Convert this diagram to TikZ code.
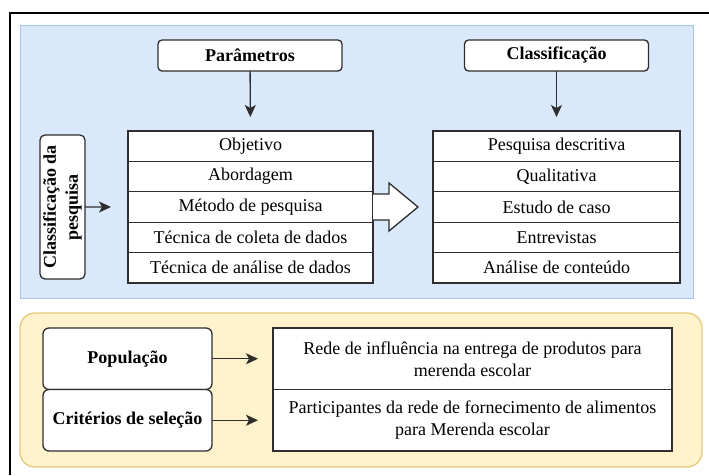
\documentclass[tikz,border=0pt]{standalone}
\usepackage{fontspec}
\setmainfont{Liberation Serif}
\usetikzlibrary{positioning, calc, arrows.meta}
\definecolor{panelblue}{HTML}{DAE8FC}
\definecolor{panelblueline}{HTML}{A9C4EB}
\definecolor{panelyellow}{HTML}{FFF2CC}
\definecolor{panelyellowline}{HTML}{E3CB7E}
\definecolor{boxline}{HTML}{2E2E2E}
\newcommand{\diagfont}{\fontsize{18}{22}\selectfont}
\tikzset{
  link/.style={-{Stealth[length=12, width=11, inset=3]}, draw=boxline, line width=1.3},
  headbox/.style={draw=boxline, line width=1.3, fill=white, rounded corners=4, minimum width=184, minimum height=31, font=\diagfont\bfseries},
  cell/.style={draw=boxline, line width=1.3, fill=white, minimum width=245, minimum height=30.4},
  sidebox/.style={draw=boxline, line width=1.3, fill=white, rounded corners=6, minimum width=169, minimum height=61.5, font=\diagfont\bfseries},
  widecell/.style={draw=boxline, line width=1.3, fill=white, minimum width=399, minimum height=61.5, align=center},
  hollow/.style={draw=boxline, line width=1.3, fill=white, line join=miter},
  every node/.style={inner sep=0, outer sep=0, font=\diagfont}, node distance=0
}
\begin{document}
\begin{tikzpicture}[x=1pt, y=-1pt]
    \useasboundingbox (0,0) rectangle (709,475);
    \draw[line width=1.3] (10,475) -- (10,13) -- (709,13);
    \draw[panelblueline, fill=panelblue, line width=1] (20,25) rectangle (693,298);
    \draw[panelyellowline, fill=panelyellow, line width=1.3, rounded corners=15] (20,313) rectangle (702,467);
    \node[headbox] (param) at (250,55.5) {Parâmetros};
    \node[headbox] (classif) at (556.5,55.5) {Classificação};
    \node[cell] (objetivo) at (250.5,146.2) {Objetivo};
    \node[cell, below=of objetivo] (abordagem) {Abordagem};
    \node[cell, below=of abordagem] (metodo) {Método de pesquisa};
    \node[cell, below=of metodo] (coleta) {Técnica de coleta de dados};
    \node[cell, below=of coleta] (analise) {Técnica de análise de dados};
    \node[cell, minimum width=247] (descritiva) at (556.5,146.2) {Pesquisa descritiva};
    \node[cell, minimum width=247, below=of descritiva] (qualitativa) {Qualitativa};
    \node[cell, minimum width=247, below=of qualitativa] (caso) {Estudo de caso};
    \node[cell, minimum width=247, below=of caso] (entrevistas) {Entrevistas};
    \node[cell, minimum width=247, below=of entrevistas] (conteudo) {Análise de conteúdo};
    \draw[link, shorten >=14] (param) -- (objetivo);
    \draw[link, shorten >=14] (classif) -- (descritiva);
    \node[draw=boxline, line width=1.3, fill=white, rounded corners=5, rotate=90, minimum width=144, minimum height=45, align=center, font=\diagfont\bfseries] (tipo) at (62.5,207) {Classificação da\\pesquisa};
    \draw[link, shorten >=17] (tipo) -- (metodo);
    \draw[hollow] (metodo.east) ++(0,-13) -- ++(16,0) -- ++(0,-11) -- ++(29,24) -- ++(-29,24) -- ++(0,-11) -- ++(-16,0);
    \node[sidebox] (populacao) at (127.5,358.75) {População};
    \node[sidebox, below=of populacao] (criterios) {Critérios de seleção};
    \node[widecell] (rede) at (472.5,358.75) {Rede de influência na entrega de produtos para\\merenda escolar};
    \node[widecell, below=of rede] (participantes) {Participantes da rede de fornecimento de alimentos\\para Merenda escolar};
    \draw[link, shorten >=15] (populacao) -- (rede);
    \draw[link, shorten >=15] (criterios) -- (participantes);
\end{tikzpicture}
\end{document}
